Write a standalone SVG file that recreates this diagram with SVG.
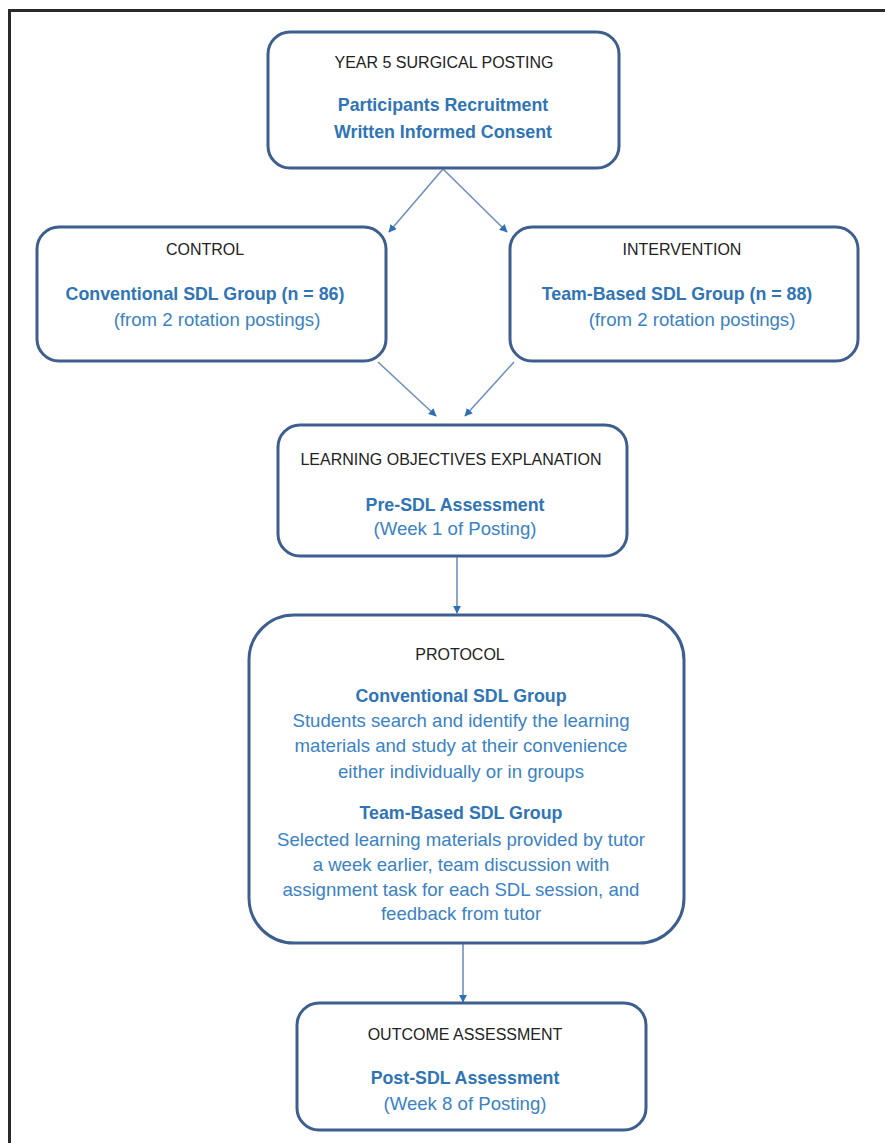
<svg xmlns="http://www.w3.org/2000/svg" width="885" height="1143" viewBox="0 0 885 1143">
<defs>
<marker id="ah" viewBox="0 0 10 10" refX="9" refY="5" markerWidth="5" markerHeight="5" orient="auto" markerUnits="strokeWidth">
<path d="M0,0 L10,5 L0,10 z" fill="#2f6fb3"/>
</marker>
</defs>
<style>
.box{fill:#fff;stroke:#3d5e8e;stroke-width:3}
.t{font-family:"Liberation Sans",Arial,sans-serif;text-anchor:middle}
.h{fill:#222;font-size:16px}
.b{fill:#2f74b5;font-weight:bold;font-size:17.8px}
.n{fill:#3a82c4;font-size:18.6px}
.c{fill:none;stroke:#6f8fbf;stroke-width:1.6;marker-end:url(#ah)}
</style>
<rect width="885" height="1143" fill="#fff"/>
<path d="M9.5,1143 V10.5 H885" fill="none" stroke="#2a2a2a" stroke-width="3"/>
<g id="connectors">
<line class="c" x1="443" y1="169" x2="389" y2="232"/>
<line class="c" x1="443" y1="169" x2="507" y2="232"/>
<line class="c" x1="378" y1="362" x2="436" y2="416"/>
<line class="c" x1="514" y1="362" x2="465" y2="416"/>
<line class="c" x1="457" y1="557" x2="457" y2="613"/>
<line class="c" x1="463" y1="944" x2="463" y2="1002"/>
</g>
<g id="year5">
<rect class="box" x="268" y="32" width="351" height="136" rx="22"/>
<text class="t h" x="444" y="68">YEAR 5 SURGICAL POSTING</text>
<text class="t b" x="443" y="111">Participants Recruitment</text>
<text class="t b" x="443" y="138">Written Informed Consent</text>
</g>
<g id="control">
<rect class="box" x="37" y="227" width="349" height="134" rx="22"/>
<text class="t h" x="205" y="255">CONTROL</text>
<text class="t b" x="205" y="300">Conventional SDL Group (n = 86)</text>
<text class="t n" x="217" y="326">(from 2 rotation postings)</text>
</g>
<g id="intervention">
<rect class="box" x="510" y="227" width="348" height="134" rx="22"/>
<text class="t h" x="682" y="255">INTERVENTION</text>
<text class="t b" x="677" y="300">Team-Based SDL Group (n = 88)</text>
<text class="t n" x="692" y="326">(from 2 rotation postings)</text>
</g>
<g id="learning">
<rect class="box" x="278" y="425" width="349" height="131" rx="22"/>
<text class="t h" x="451" y="465">LEARNING OBJECTIVES EXPLANATION</text>
<text class="t b" x="455" y="511">Pre-SDL Assessment</text>
<text class="t n" x="455" y="535">(Week 1 of Posting)</text>
</g>
<g id="protocol">
<rect class="box" x="249" y="615" width="435" height="328" rx="45"/>
<text class="t h" x="460" y="660">PROTOCOL</text>
<text class="t b" x="461" y="702">Conventional SDL Group</text>
<text class="t n" x="461" y="727">Students search and identify the learning</text>
<text class="t n" x="461" y="752">materials and study at their convenience</text>
<text class="t n" x="461" y="778">either individually or in groups</text>
<text class="t b" x="461" y="819">Team-Based SDL Group</text>
<text class="t n" x="461" y="846">Selected learning materials provided by tutor</text>
<text class="t n" x="461" y="871">a week earlier, team discussion with</text>
<text class="t n" x="461" y="896">assignment task for each SDL session, and</text>
<text class="t n" x="461" y="920">feedback from tutor</text>
</g>
<g id="outcome">
<rect class="box" x="297" y="1003" width="349" height="127" rx="22"/>
<text class="t h" x="465" y="1040">OUTCOME ASSESSMENT</text>
<text class="t b" x="465" y="1084">Post-SDL Assessment</text>
<text class="t n" x="465" y="1110">(Week 8 of Posting)</text>
</g>
</svg>
